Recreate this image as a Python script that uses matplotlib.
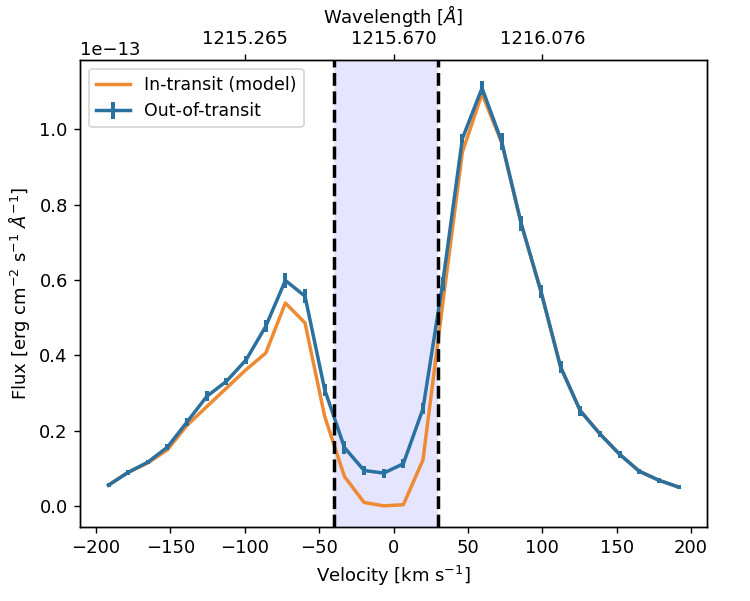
import numpy as np
import matplotlib
matplotlib.use("Agg")
import matplotlib.pyplot as plt

plt.rcParams['font.size'] = 10.4

# Velocity grid [km/s]
velocity = [-191.6, -178.4, -165.2, -152.0, -138.8, -125.5, -112.3, -99.1,
            -85.9, -72.7, -59.5, -46.3, -33.0, -19.8, -6.6, 6.6, 19.8, 33.0,
            46.3, 59.5, 72.7, 85.9, 99.1, 112.3, 125.5, 138.8, 152.0, 165.2,
            178.4, 191.6]

# Out-of-transit flux [1e-13 erg cm^-2 s^-1 A^-1]
flux_out = [0.055, 0.089, 0.116, 0.156, 0.223, 0.291, 0.331, 0.388, 0.477,
            0.599, 0.557, 0.309, 0.155, 0.094, 0.087, 0.112, 0.258, 0.59,
            0.976, 1.110, 0.968, 0.749, 0.570, 0.369, 0.253, 0.191, 0.137,
            0.092, 0.068, 0.050]
err_out = [0.005, 0.006, 0.006, 0.008, 0.010, 0.013, 0.010, 0.011, 0.016,
           0.019, 0.018, 0.016, 0.016, 0.012, 0.012, 0.012, 0.015, 0.018,
           0.013, 0.018, 0.022, 0.020, 0.018, 0.015, 0.013, 0.009, 0.009,
           0.007, 0.006, 0.005]

# In-transit model flux
flux_in = [0.055, 0.089, 0.114, 0.149, 0.214, 0.264, 0.313, 0.362, 0.406,
           0.539, 0.486, 0.238, 0.078, 0.009, 0.000, 0.003, 0.122, 0.535,
           0.940, 1.095, 0.965, 0.748, 0.570, 0.369, 0.253, 0.191, 0.137,
           0.092, 0.068, 0.050]

scale = 1e-13
v_lo, v_hi = -40, 30

lam0 = 1215.67
c_kms = 299792.458
top_labels = ["1215.265", "1215.670", "1216.076"]

fig = plt.figure(figsize=(6, 4.808), dpi=125)
ax = fig.add_axes([0.1067, 0.123, 0.836, 0.777])

v = np.array(velocity)
ax.axvspan(v_lo, v_hi, color='blue', alpha=0.1, lw=0, zorder=0)
ax.plot(v, np.array(flux_in) * scale, color='#ee8a33', lw=2,
        label='In-transit (model)', zorder=2)
ax.errorbar(v, np.array(flux_out) * scale, yerr=np.array(err_out) * scale,
            color='#2a71a0', lw=2, elinewidth=2.3, label='Out-of-transit',
            zorder=3)
ax.axvline(v_lo, color='black', ls='--', lw=2, zorder=4)
ax.axvline(v_hi, color='black', ls='--', lw=2, zorder=4)

ax.set_xlabel(r'Velocity [km s$^{-1}$]')
ax.set_ylabel(r'Flux [erg cm$^{-2}$ s$^{-1}$ $\AA^{-1}$]')
ax.set_xticks([-200, -150, -100, -50, 0, 50, 100, 150, 200])
ax.set_yticks(np.array([0.0, 0.2, 0.4, 0.6, 0.8, 1.0]) * scale)
ax.legend(loc='upper left', fontsize=10)

ax2 = ax.twiny()
ax2.set_xlim(ax.get_xlim())
top_pos = [(float(t) / lam0 - 1) * c_kms for t in top_labels]
ax2.set_xticks(top_pos)
ax2.set_xticklabels(top_labels)
ax2.set_xlabel(r'Wavelength [$\AA$]')

fig.savefig('out.png', dpi=125)
